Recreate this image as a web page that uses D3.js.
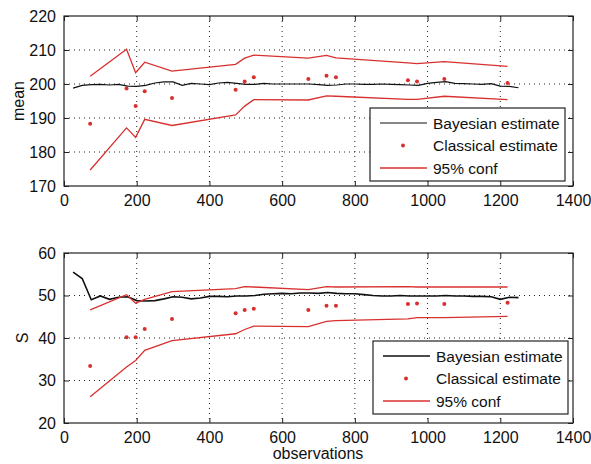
<!DOCTYPE html>
<html>
<head>
<meta charset="utf-8">
<script src="https://cdn.jsdelivr.net/npm/d3@7"></script>
<style>
  body { margin: 0; background: #fff; }
  text { font-family: "Liberation Sans", Arial, sans-serif; fill: #111; }
</style>
</head>
<body>
<div id="root"></div>
<script>
// observation counts of the classical estimates and conf bounds
const obsX = [72, 172, 197, 222, 297, 472, 497, 522, 672, 722, 748, 946, 971, 1046, 1220];

// Bayesian estimates evaluated every 25 observations
const bayesX = d3.range(25, 1251, 25);
const meanBayes = [198.8, 199.6, 199.8, 199.9, 199.7, 199.9, 199.4, 199.3, 199.6, 200.3,
  200.6, 200.6, 199.6, 200.2, 200.0, 199.8, 200.3, 200.5, 200.2, 199.9,
  199.9, 200.2, 200.0, 200.0, 200.0, 200.0, 200.0, 199.8, 199.6, 199.7,
  200.0, 200.0, 199.9, 199.9, 200.0, 199.9, 199.8, 199.7, 199.6, 200.2,
  200.5, 200.7, 200.2, 200.1, 200.0, 199.9, 200.1, 199.4, 199.3, 198.9];
const sBayes = [55.5, 54.0, 49.0, 49.9, 49.1, 49.6, 49.7, 48.8, 48.7, 48.8,
  49.2, 49.7, 49.6, 49.2, 49.4, 49.8, 49.8, 49.7, 49.9, 49.9,
  50.0, 50.3, 50.4, 50.5, 50.4, 50.6, 50.6, 50.5, 50.7, 50.5,
  50.4, 50.4, 50.2, 50.0, 49.9, 49.9, 50.0, 49.9, 49.9, 49.9,
  49.9, 50.0, 49.9, 49.9, 49.8, 49.8, 49.7, 49.1, 49.6, 49.5];

const meanClassical = [188.3, 198.7, 193.5, 197.9, 195.9, 198.3, 200.7, 202.0, 201.5, 202.4, 202.0, 201.1, 200.7, 201.5, 200.3];
const meanUpper = [202.3, 210.2, 203.3, 206.4, 203.8, 205.8, 207.6, 208.5, 207.6, 208.4, 207.7, 206.2, 206.0, 206.6, 205.2];
const meanLower = [174.7, 187.1, 184.3, 189.6, 187.8, 190.9, 193.5, 195.4, 195.3, 196.5, 196.4, 195.5, 195.5, 196.4, 195.4];

const sClassical = [33.4, 40.2, 40.2, 42.1, 44.5, 45.8, 46.6, 46.9, 46.6, 47.6, 47.6, 48.0, 48.1, 48.0, 48.3];
const sUpper = [46.6, 50.2, 48.2, 49.1, 50.9, 51.6, 52.1, 52.0, 51.4, 52.1, 52.0, 52.1, 52.0, 52.0, 52.0];
const sLower = [26.2, 33.2, 34.7, 37.1, 39.4, 41.0, 42.0, 42.8, 42.7, 43.9, 44.1, 44.5, 44.8, 44.8, 45.1];

const xTicks = [0, 200, 400, 600, 800, 1000, 1200, 1400];
const meanTicks = [170, 180, 190, 200, 210, 220];
const sTicks = [20, 30, 40, 50, 60];
const legendLabels = ["Bayesian estimate", "Classical estimate", "95% conf"];

const red = "#d8302f";

const svg = d3.select("#root").append("svg")
  .attr("width", 591).attr("height", 464);

const x = d3.scaleLinear().domain([0, 1400]).range([64, 573]);

function panel(opts) {
  const y = d3.scaleLinear().domain(opts.domain).range([opts.bottom, opts.top]);
  const g = svg.append("g");

  // dotted grid
  g.append("g").selectAll("line").data(xTicks.slice(1, -1)).join("line")
    .attr("x1", d => x(d)).attr("x2", d => x(d))
    .attr("y1", opts.top).attr("y2", opts.bottom)
    .attr("stroke", "#222").attr("stroke-width", 1).attr("stroke-dasharray", "1,4");
  g.append("g").selectAll("line").data(opts.ticks.slice(1, -1)).join("line")
    .attr("x1", 64).attr("x2", 573)
    .attr("y1", d => y(d)).attr("y2", d => y(d))
    .attr("stroke", "#222").attr("stroke-width", 1).attr("stroke-dasharray", "1,4");

  // axes with inward ticks
  g.append("g").attr("transform", `translate(0,${opts.bottom})`)
    .call(d3.axisBottom(x).tickValues(xTicks).tickFormat(d3.format("d"))
      .tickSizeInner(-5).tickSizeOuter(0).tickPadding(9));
  g.append("g").attr("transform", "translate(64,0)")
    .call(d3.axisLeft(y).tickValues(opts.ticks).tickFormat(d3.format("d"))
      .tickSizeInner(-5).tickSizeOuter(0).tickPadding(8));
  g.append("g").attr("transform", `translate(0,${opts.top})`)
    .call(d3.axisTop(x).tickValues(xTicks).tickSizeInner(-5).tickSizeOuter(0).tickFormat(""));
  g.append("g").attr("transform", "translate(573,0)")
    .call(d3.axisRight(y).tickValues(opts.ticks).tickSizeInner(-5).tickSizeOuter(0).tickFormat(""));
  g.selectAll(".domain").remove();
  g.selectAll(".tick line").attr("stroke", "#222");
  g.selectAll(".tick text").attr("font-size", 16).attr("fill", "#111")
    .attr("font-family", "'Liberation Sans', Arial, sans-serif");

  // frame
  g.append("rect").attr("x", 64).attr("y", opts.top)
    .attr("width", 573 - 64).attr("height", opts.bottom - opts.top)
    .attr("fill", "none").attr("stroke", "#222").attr("stroke-width", 1.2);

  const line = d3.line().x(d => x(d[0])).y(d => y(d[1]));

  g.append("path").datum(d3.zip(bayesX, opts.bayes))
    .attr("d", line).attr("fill", "none").attr("stroke", "#111").attr("stroke-width", opts.bw);
  [opts.upper, opts.lower].forEach(s => {
    g.append("path").datum(d3.zip(obsX, s))
      .attr("d", line).attr("fill", "none").attr("stroke", red).attr("stroke-width", 1.3);
  });
  g.append("g").selectAll("circle").data(d3.zip(obsX, opts.classical)).join("circle")
    .attr("cx", d => x(d[0])).attr("cy", d => y(d[1])).attr("r", 2)
    .attr("fill", red);

  // y label
  g.append("text")
    .attr("transform", `translate(${opts.labelX},${(opts.top + opts.bottom) / 2}) rotate(-90)`)
    .attr("text-anchor", "middle").attr("font-size", 16).text(opts.label);

  // legend
  const L = opts.legend;
  const lg = g.append("g").attr("transform", `translate(${L.x},${L.y})`);
  lg.append("rect").attr("width", 195).attr("height", 73)
    .attr("fill", "#fff").attr("stroke", "#222").attr("stroke-width", 1.2);
  legendLabels.forEach((lab, i) => {
    const cy = 15 + i * 22.5;
    if (i === 1) {
      lg.append("circle").attr("cx", 33).attr("cy", cy).attr("r", 2).attr("fill", red);
    } else {
      lg.append("line").attr("x1", 10).attr("x2", 57).attr("y1", cy).attr("y2", cy)
        .attr("stroke", i === 0 ? "#111" : red).attr("stroke-width", i === 0 ? opts.bw : 1.3);
    }
    lg.append("text").attr("x", 63).attr("y", cy + 5.5).attr("font-size", 15.5).text(lab);
  });
}

panel({
  top: 16, bottom: 186, domain: [170, 220], ticks: meanTicks,
  bayes: meanBayes, classical: meanClassical, upper: meanUpper, lower: meanLower,
  label: "mean", labelX: 24, bw: 1.2, legend: { x: 370, y: 108 }
});
panel({
  top: 253, bottom: 423, domain: [20, 60], ticks: sTicks,
  bayes: sBayes, classical: sClassical, upper: sUpper, lower: sLower,
  label: "S", labelX: 28, bw: 1.6, legend: { x: 373, y: 341 }
});

svg.append("text").attr("x", 318).attr("y", 459)
  .attr("text-anchor", "middle").attr("font-size", 16).text("observations");
</script>
</body>
</html>
